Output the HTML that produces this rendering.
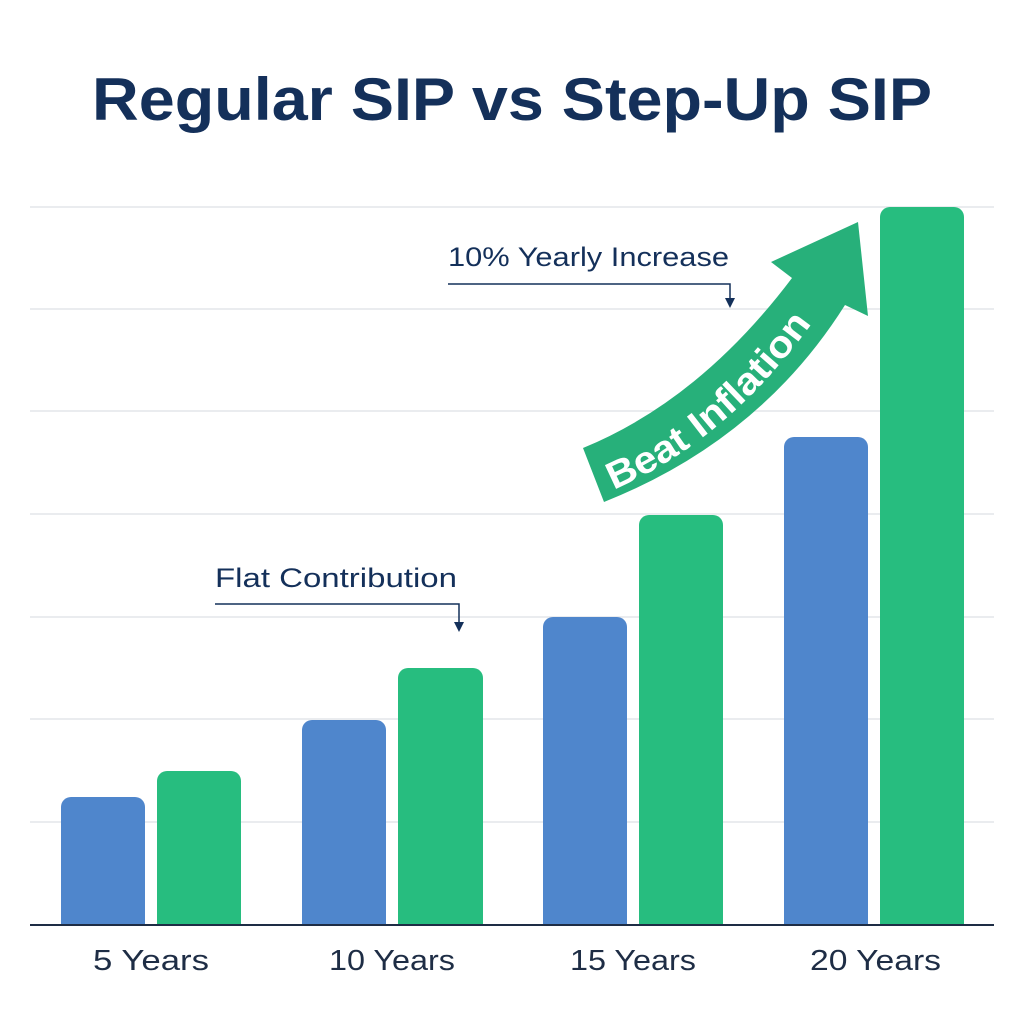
<!DOCTYPE html>
<html><head><style>
body{margin:0;background:#fff;width:1024px;height:1024px;overflow:hidden}
svg{display:block}
</style></head><body>
<svg width="1024" height="1024" viewBox="0 0 1024 1024" xmlns="http://www.w3.org/2000/svg" font-family="Liberation Sans, sans-serif">
<text x="92" y="120" textLength="840" lengthAdjust="spacingAndGlyphs" font-size="60" font-weight="bold" fill="#14305a">Regular SIP vs Step-Up SIP</text>
<g stroke="#e4e6ea" stroke-width="1.5">
<line x1="30" y1="207" x2="994" y2="207"/><line x1="30" y1="309" x2="994" y2="309"/>
<line x1="30" y1="411" x2="994" y2="411"/><line x1="30" y1="514" x2="994" y2="514"/>
<line x1="30" y1="617" x2="994" y2="617"/><line x1="30" y1="719" x2="994" y2="719"/>
<line x1="30" y1="822" x2="994" y2="822"/></g>
<g fill="#4f86cc">
<path d="M61,925V807a10,10 0 0 1 10,-10H135a10,10 0 0 1 10,10V925Z"/>
<path d="M302,925V730a10,10 0 0 1 10,-10H376a10,10 0 0 1 10,10V925Z"/>
<path d="M543,925V627a10,10 0 0 1 10,-10H617a10,10 0 0 1 10,10V925Z"/>
<path d="M784,925V447a10,10 0 0 1 10,-10H858a10,10 0 0 1 10,10V925Z"/></g>
<g fill="#27bd7f">
<path d="M157,925V781a10,10 0 0 1 10,-10H231a10,10 0 0 1 10,10V925Z"/>
<path d="M398,925V678a10,10 0 0 1 10,-10H473a10,10 0 0 1 10,10V925Z"/>
<path d="M639,925V525a10,10 0 0 1 10,-10H713a10,10 0 0 1 10,10V925Z"/>
<path d="M880,925V217a10,10 0 0 1 10,-10H954a10,10 0 0 1 10,10V925Z"/></g>
<line x1="30" y1="925" x2="994" y2="925" stroke="#1e2d45" stroke-width="2"/>
<g font-size="29" fill="#1e2d45" lengthAdjust="spacingAndGlyphs">
<text x="93" y="970" textLength="116" lengthAdjust="spacingAndGlyphs">5 Years</text>
<text x="329" y="970" textLength="126" lengthAdjust="spacingAndGlyphs">10 Years</text>
<text x="570" y="970" textLength="126" lengthAdjust="spacingAndGlyphs">15 Years</text>
<text x="810" y="970" textLength="131" lengthAdjust="spacingAndGlyphs">20 Years</text></g>
<g font-size="27" fill="#14305a">
<text x="448" y="266" textLength="281" lengthAdjust="spacingAndGlyphs">10% Yearly Increase</text>
<text x="215" y="587" textLength="242" lengthAdjust="spacingAndGlyphs">Flat Contribution</text></g>
<g fill="none" stroke="#14305a" stroke-width="1.5">
<path d="M448,284H730V302"/><path d="M215,604H459V626"/></g>
<path d="M725,298l5,10 5,-10z M454,622l5,10 5,-10z" fill="#14305a"/>
<path d="M583,448 Q700,400 792,278 L771,262 L858,222 L868,316 L845,305 Q760,440 604,502 Z" fill="#27b07a"/>
<path id="tp" d="M608,492 Q735,440 828,300" fill="none"/>
<text font-size="38" font-weight="bold" fill="#fff"><textPath href="#tp" startOffset="6" textLength="262" lengthAdjust="spacingAndGlyphs">Beat Inflation</textPath></text>
</svg>
</body></html>
